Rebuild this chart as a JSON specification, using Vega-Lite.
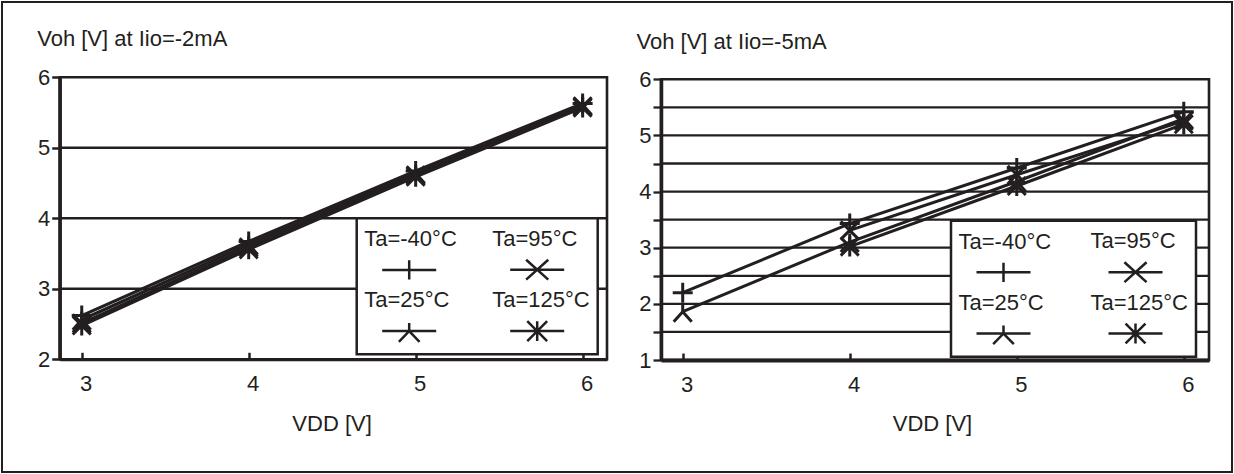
{
  "$schema": "https://vega.github.io/schema/vega-lite/v6.json",
  "width": 1230,
  "height": 470,
  "autosize": {"type": "none"},
  "padding": 2,
  "background": "white",
  "view": {"stroke": "#231f20", "strokeWidth": 2},
  "config": {
    "font": "Liberation Sans",
    "axis": {
      "labelFont": "Liberation Sans", "labelFontSize": 22, "labelColor": "#231f20",
      "titleFont": "Liberation Sans", "titleFontSize": 22, "titleFontWeight": "normal", "titleColor": "#231f20",
      "domainColor": "#231f20", "tickColor": "#231f20", "grid": false, "labelFlush": false, "labelOverlap": false
    },
    "legend": {"strokeWidth": 2.5}
  },
  "datasets": {
    "iio2": [
      {"Ta": "Ta=-40°C", "vdd": 3, "voh": 2.62}, {"Ta": "Ta=-40°C", "vdd": 4, "voh": 3.67}, {"Ta": "Ta=-40°C", "vdd": 5, "voh": 4.67}, {"Ta": "Ta=-40°C", "vdd": 6, "voh": 5.63},
      {"Ta": "Ta=25°C", "vdd": 3, "voh": 2.56}, {"Ta": "Ta=25°C", "vdd": 4, "voh": 3.63}, {"Ta": "Ta=25°C", "vdd": 5, "voh": 4.64}, {"Ta": "Ta=25°C", "vdd": 6, "voh": 5.61},
      {"Ta": "Ta=95°C", "vdd": 3, "voh": 2.51}, {"Ta": "Ta=95°C", "vdd": 4, "voh": 3.59}, {"Ta": "Ta=95°C", "vdd": 5, "voh": 4.61}, {"Ta": "Ta=95°C", "vdd": 6, "voh": 5.59},
      {"Ta": "Ta=125°C", "vdd": 3, "voh": 2.48}, {"Ta": "Ta=125°C", "vdd": 4, "voh": 3.56}, {"Ta": "Ta=125°C", "vdd": 5, "voh": 4.59}, {"Ta": "Ta=125°C", "vdd": 6, "voh": 5.57}
    ],
    "iio5": [
      {"Ta": "Ta=-40°C", "vdd": 3, "voh": 2.2}, {"Ta": "Ta=-40°C", "vdd": 4, "voh": 3.43}, {"Ta": "Ta=-40°C", "vdd": 5, "voh": 4.42}, {"Ta": "Ta=-40°C", "vdd": 6, "voh": 5.42},
      {"Ta": "Ta=25°C", "vdd": 3, "voh": 1.86}, {"Ta": "Ta=25°C", "vdd": 4, "voh": 3.1}, {"Ta": "Ta=25°C", "vdd": 5, "voh": 4.18}, {"Ta": "Ta=25°C", "vdd": 6, "voh": 5.3},
      {"Ta": "Ta=95°C", "vdd": 4, "voh": 3.31}, {"Ta": "Ta=95°C", "vdd": 5, "voh": 4.3}, {"Ta": "Ta=95°C", "vdd": 6, "voh": 5.26},
      {"Ta": "Ta=125°C", "vdd": 4, "voh": 3.02}, {"Ta": "Ta=125°C", "vdd": 5, "voh": 4.1}, {"Ta": "Ta=125°C", "vdd": 6, "voh": 5.2}
    ],
    "grid2": [{"v": 3}, {"v": 4}, {"v": 5}],
    "grid5": [{"v": 1.5}, {"v": 2}, {"v": 2.5}, {"v": 3}, {"v": 3.5}, {"v": 4}, {"v": 4.5}, {"v": 5}, {"v": 5.5}],
    "one": [{}]
  },
  "resolve": {"scale": {"x": "independent", "y": "independent", "shape": "independent"}},
  "layer": [
    {
      "resolve": {"scale": {"shape": "independent"}},
      "layer": [
        {
          "data": {"name": "grid2"},
          "mark": {"type": "rule", "stroke": "#231f20", "strokeWidth": 2.6},
          "encoding": {
            "y": {"field": "v", "type": "quantitative", "scale": {"domain": [2, 6], "range": [357.3, 75.3], "nice": false, "zero": false},
              "axis": {"orient": "left", "offset": -57.7, "values": [2, 3, 4, 5, 6], "format": "d", "title": "Voh [V] at Iio=-2mA",
                "titleAngle": 0, "titleX": -23, "titleY": 43, "titleAlign": "left", "titleBaseline": "alphabetic",
                "tickSize": 8, "tickWidth": 2.5, "labelPadding": 2, "domainWidth": 3.5, "zindex": 1}},
            "x": {"datum": 2.868, "type": "quantitative", "scale": {"domain": [2.868, 6.146], "range": [57.7, 605], "nice": false, "zero": false},
              "axis": {"orient": "bottom", "offset": -112.7, "values": [3, 4, 5, 6], "format": "d", "title": "VDD [V]",
                "titleX": 329.6, "titleY": 70.7, "titleAlign": "center", "titleBaseline": "alphabetic", "titleAngle": 0,
                "labelPadding": 21, "labelOffset": 4, "tickSize": -7, "tickWidth": 2.5, "domainWidth": 3, "zindex": 1}},
            "x2": {"datum": 6.146}
          }
        },
        {
          "data": {"name": "one"},
          "mark": {"type": "rect", "filled": false, "stroke": "#231f20", "strokeWidth": 2.6},
          "encoding": {
            "x": {"datum": 2.868, "type": "quantitative", "scale": {"domain": [2.868, 6.146], "range": [57.7, 605], "nice": false, "zero": false}},
            "x2": {"datum": 6.146},
            "y": {"datum": 2, "type": "quantitative", "scale": {"domain": [2, 6], "range": [357.3, 75.3], "nice": false, "zero": false}},
            "y2": {"datum": 6}
          }
        },
        {
          "data": {"name": "iio2"},
          "mark": {"type": "line", "stroke": "#231f20", "strokeWidth": 3.2},
          "encoding": {
            "x": {"field": "vdd", "type": "quantitative", "scale": {"domain": [2.868, 6.146], "range": [57.7, 605], "nice": false, "zero": false}},
            "y": {"field": "voh", "type": "quantitative", "scale": {"domain": [2, 6], "range": [357.3, 75.3], "nice": false, "zero": false}},
            "detail": {"field": "Ta", "type": "nominal"}
          }
        },
        {
          "data": {"name": "iio2"},
          "mark": {"type": "point", "filled": false, "stroke": "#231f20", "strokeWidth": 3, "size": 400, "opacity": 1},
          "encoding": {
            "x": {"field": "vdd", "type": "quantitative", "scale": {"domain": [2.868, 6.146], "range": [57.7, 605], "nice": false, "zero": false}},
            "y": {"field": "voh", "type": "quantitative", "scale": {"domain": [2, 6], "range": [357.3, 75.3], "nice": false, "zero": false}},
            "shape": {"field": "Ta", "type": "nominal",
              "scale": {"domain": ["Ta=-40°C", "Ta=95°C", "Ta=25°C", "Ta=125°C"],
                "range": ["M-1,0H1M0,-1V1", "M-0.9,-0.9L0.9,0.9M-0.9,0.9L0.9,-0.9", "M0,-0.8V0M0,0L-0.9,1M0,0L0.9,1", "M-0.9,-0.9L0.9,0.9M-0.9,0.9L0.9,-0.9M0,-1V1"]},
              "legend": null}
          }
        },
        {
          "data": {"name": "iio2"},
          "mark": {"type": "point", "filled": false, "stroke": "#231f20", "strokeWidth": 2.5, "opacity": 0},
          "encoding": {
            "x": {"field": "vdd", "type": "quantitative", "scale": {"domain": [2.868, 6.146], "range": [57.7, 605], "nice": false, "zero": false}},
            "y": {"field": "voh", "type": "quantitative", "scale": {"domain": [2, 6], "range": [357.3, 75.3], "nice": false, "zero": false}},
            "shape": {"field": "Ta", "type": "nominal",
              "scale": {"domain": ["Ta=-40°C", "Ta=95°C", "Ta=25°C", "Ta=125°C"],
                "range": ["M-1.44,1.27H1.44M0,0.76V1.78", "M-1.44,1.27H1.44M-0.59,0.74L0.59,1.8M-0.59,1.8L0.59,0.74", "M-1.44,1.27H1.44M0,0.84V1.27L-0.55,1.84M0,1.27L0.55,1.84", "M-1.44,1.27H1.44M-0.53,0.74L0.53,1.8M-0.53,1.8L0.53,0.74M0,0.74V1.8"]},
              "legend": {"orient": "none", "legendX": 354.7, "legendY": 216.3, "columns": 2, "direction": "horizontal", "title": null,
                "fillColor": "white", "strokeColor": "#231f20", "padding": 7.5, "rowPadding": 2.5, "columnPadding": 35,
                "labelFont": "Liberation Sans", "labelFontSize": 22, "labelColor": "#231f20", "labelOffset": -65,
                "labelBaseline": "alphabetic", "labelAlign": "left", "labelLimit": 400,
                "symbolOffset": 25, "symbolSize": 1406.25, "symbolStrokeWidth": 2.5, "symbolStrokeColor": "#231f20",
                "symbolFillColor": "transparent", "symbolOpacity": 1, "zindex": 2}}
          }
        }
      ]
    },
    {
      "resolve": {"scale": {"shape": "independent"}},
      "layer": [
        {
          "data": {"name": "grid5"},
          "mark": {"type": "rule", "stroke": "#231f20", "strokeWidth": 2.3},
          "encoding": {
            "y": {"field": "v", "type": "quantitative", "scale": {"domain": [1, 6], "range": [358, 77.3], "nice": false, "zero": false},
              "axis": {"orient": "left", "offset": -659, "values": [1, 1.5, 2, 2.5, 3, 3.5, 4, 4.5, 5, 5.5, 6],
                "labelExpr": "datum.value % 1 === 0 ? format(datum.value, 'd') : ''",
                "title": "Voh [V] at Iio=-5mA",
                "titleAngle": 0, "titleX": -25, "titleY": 46.3, "titleAlign": "left", "titleBaseline": "alphabetic",
                "tickSize": 8, "tickWidth": 2.3, "labelPadding": 2, "domainWidth": 3.5, "zindex": 1}},
            "x": {"datum": 2.870, "type": "quantitative", "scale": {"domain": [2.870, 6.151], "range": [659, 1207], "nice": false, "zero": false},
              "axis": {"orient": "bottom", "offset": -112, "values": [3, 4, 5, 6], "format": "d", "title": "VDD [V]",
                "titleX": 930, "titleY": 70, "titleAlign": "center", "titleBaseline": "alphabetic", "titleAngle": 0,
                "labelPadding": 21, "labelOffset": 4, "tickSize": -7, "tickWidth": 2.5, "domainWidth": 4, "zindex": 1}},
            "x2": {"datum": 6.151}
          }
        },
        {
          "data": {"name": "one"},
          "mark": {"type": "rect", "filled": false, "stroke": "#231f20", "strokeWidth": 2.6},
          "encoding": {
            "x": {"datum": 2.870, "type": "quantitative", "scale": {"domain": [2.870, 6.151], "range": [659, 1207], "nice": false, "zero": false}},
            "x2": {"datum": 6.151},
            "y": {"datum": 1, "type": "quantitative", "scale": {"domain": [1, 6], "range": [358, 77.3], "nice": false, "zero": false}},
            "y2": {"datum": 6}
          }
        },
        {
          "data": {"name": "iio5"},
          "mark": {"type": "line", "stroke": "#231f20", "strokeWidth": 3},
          "encoding": {
            "x": {"field": "vdd", "type": "quantitative", "scale": {"domain": [2.870, 6.151], "range": [659, 1207], "nice": false, "zero": false}},
            "y": {"field": "voh", "type": "quantitative", "scale": {"domain": [1, 6], "range": [358, 77.3], "nice": false, "zero": false}},
            "detail": {"field": "Ta", "type": "nominal"}
          }
        },
        {
          "data": {"name": "iio5"},
          "mark": {"type": "point", "filled": false, "stroke": "#231f20", "strokeWidth": 3, "size": 400, "opacity": 1},
          "encoding": {
            "x": {"field": "vdd", "type": "quantitative", "scale": {"domain": [2.870, 6.151], "range": [659, 1207], "nice": false, "zero": false}},
            "y": {"field": "voh", "type": "quantitative", "scale": {"domain": [1, 6], "range": [358, 77.3], "nice": false, "zero": false}},
            "shape": {"field": "Ta", "type": "nominal",
              "scale": {"domain": ["Ta=-40°C", "Ta=95°C", "Ta=25°C", "Ta=125°C"],
                "range": ["M-1,0H1M0,-1V1", "M-0.9,-0.9L0.9,0.9M-0.9,0.9L0.9,-0.9", "M0,-0.8V0M0,0L-0.9,1M0,0L0.9,1", "M-0.9,-0.9L0.9,0.9M-0.9,0.9L0.9,-0.9M0,-1V1"]},
              "legend": null}
          }
        },
        {
          "data": {"name": "iio5"},
          "mark": {"type": "point", "filled": false, "stroke": "#231f20", "strokeWidth": 2.5, "opacity": 0},
          "encoding": {
            "x": {"field": "vdd", "type": "quantitative", "scale": {"domain": [2.870, 6.151], "range": [659, 1207], "nice": false, "zero": false}},
            "y": {"field": "voh", "type": "quantitative", "scale": {"domain": [1, 6], "range": [358, 77.3], "nice": false, "zero": false}},
            "shape": {"field": "Ta", "type": "nominal",
              "scale": {"domain": ["Ta=-40°C", "Ta=95°C", "Ta=25°C", "Ta=125°C"],
                "range": ["M-1.44,1.27H1.44M0,0.76V1.78", "M-1.44,1.27H1.44M-0.59,0.74L0.59,1.8M-0.59,1.8L0.59,0.74", "M-1.44,1.27H1.44M0,0.84V1.27L-0.55,1.84M0,1.27L0.55,1.84", "M-1.44,1.27H1.44M-0.53,0.74L0.53,1.8M-0.53,1.8L0.53,0.74M0,0.74V1.8"]},
              "legend": {"orient": "none", "legendX": 949, "legendY": 218.7, "columns": 2, "direction": "horizontal", "title": null,
                "fillColor": "white", "strokeColor": "#231f20", "padding": 7.5, "rowPadding": 2.5, "columnPadding": 39,
                "labelFont": "Liberation Sans", "labelFontSize": 22, "labelColor": "#231f20", "labelOffset": -65,
                "labelBaseline": "alphabetic", "labelAlign": "left", "labelLimit": 400,
                "symbolOffset": 25, "symbolSize": 1406.25, "symbolStrokeWidth": 2.5, "symbolStrokeColor": "#231f20",
                "symbolFillColor": "transparent", "symbolOpacity": 1, "zindex": 2}}
          }
        }
      ]
    }
  ]
}
